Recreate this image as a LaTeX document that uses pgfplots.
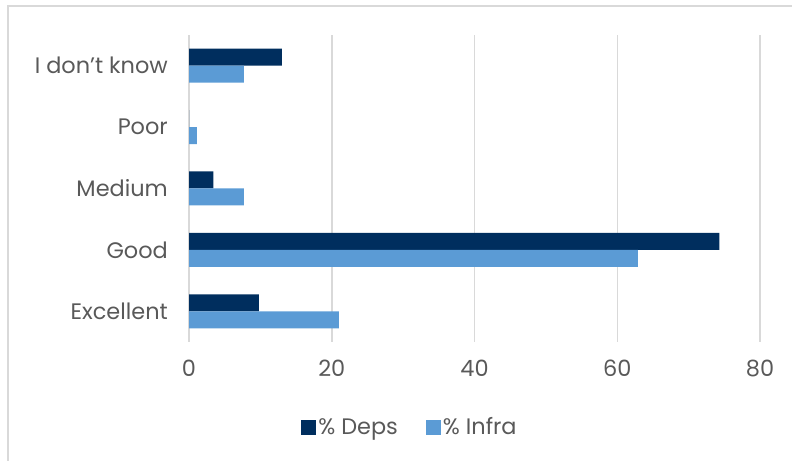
\documentclass[border=0pt]{standalone}
\usepackage{fontspec}
\setmainfont{Poppins}
\usepackage{pgfplots}
\pgfplotsset{compat=1.18}
\definecolor{deps}{RGB}{0,46,94}
\definecolor{infra}{RGB}{91,155,213}
\definecolor{gridc}{RGB}{217,217,217}
\definecolor{txt}{RGB}{89,89,89}
\begin{document}
\begin{tikzpicture}[x=1bp,y=1bp]
\path[use as bounding box] (0,0) rectangle (792,461);
\draw[gridc, line width=2bp] (8,0) -- (8,455) -- (792,455);
\begin{axis}[
  at={(189bp,119bp)}, anchor=south west,
  scale only axis, width=571bp, height=307bp,
  xmin=0, xmax=80, ymin=-0.5, ymax=4.5,
  xtick={0,20,40,60,80},
  ytick={0,1,2,3,4},
  yticklabels={Excellent,Good,Medium,Poor,I don{\char"27}t know},
  xmajorgrids, major grid style={gridc, line width=1.5bp},
  axis x line*=bottom,
  x axis line style={draw=none},
  axis y line*=left,
  y axis line style={gridc, line width=1.5bp, -},
  major tick length=0pt,
  tick style={draw=none},
  xticklabel style={anchor=north, inner sep=0pt, yshift=-18bp},
  yticklabel style={anchor=east, inner sep=0pt, xshift=-21bp},
  ticklabel style={font=\fontsize{22.5}{26}\selectfont, text=txt},
  /pgf/number format/assume math mode=true,
  xbar, bar width=17bp,
  legend style={at={(0.387,-0.277)}, anchor=center, draw=none, fill=none,
    legend columns=2, font=\fontsize{22.5}{26}\selectfont, text=txt,
    /tikz/every even column/.append style={column sep=26bp}},
  legend image code/.code={\fill[#1] (0bp,-7.5bp) rectangle (15bp,7.5bp);},
]
\addplot[fill=deps, draw=none, bar shift=8.5bp] coordinates {
  (9.8,0) (74.3,1) (3.4,2) (0,3) (13.0,4)};
\addlegendentry{\% Deps}
\addplot[fill=infra, draw=none, bar shift=-8.5bp] coordinates {
  (21.0,0) (62.9,1) (7.7,2) (1.1,3) (7.7,4)};
\addlegendentry{\% Infra}
\end{axis}
\end{tikzpicture}
\end{document}
